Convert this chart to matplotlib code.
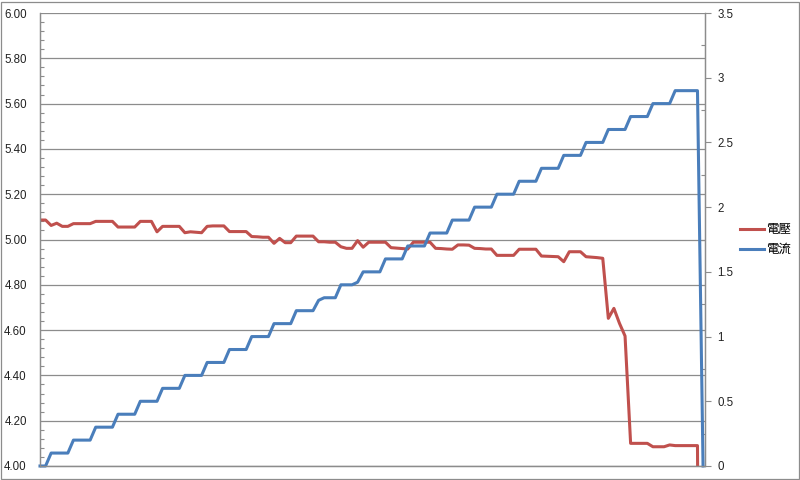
import matplotlib.pyplot as plt
from matplotlib.ticker import MultipleLocator, FormatStrFormatter
from matplotlib.patches import Rectangle

# voltage (V), left axis
voltage = [5.086, 5.086, 5.062, 5.072, 5.058, 5.058, 5.070, 5.070, 5.070, 5.070,
           5.080, 5.080, 5.080, 5.080, 5.055, 5.055, 5.055, 5.055, 5.080, 5.080,
           5.080, 5.034, 5.058, 5.058, 5.058, 5.058, 5.030, 5.034, 5.032, 5.030,
           5.058, 5.060, 5.060, 5.060, 5.035, 5.035, 5.035, 5.035, 5.013, 5.012,
           5.010, 5.010, 4.983, 5.005, 4.986, 4.986, 5.015, 5.015, 5.015, 5.015,
           4.990, 4.990, 4.988, 4.988, 4.968, 4.961, 4.961, 4.995, 4.966, 4.988,
           4.988, 4.988, 4.988, 4.964, 4.962, 4.960, 4.958, 4.988, 4.988, 4.988,
           4.988, 4.961, 4.960, 4.958, 4.957, 4.976, 4.976, 4.975, 4.961, 4.960,
           4.958, 4.958, 4.930, 4.930, 4.930, 4.930, 4.957, 4.957, 4.957, 4.957,
           4.927, 4.926, 4.925, 4.924, 4.902, 4.946, 4.946, 4.946, 4.924, 4.922,
           4.920, 4.917, 4.652, 4.696, 4.630, 4.574, 4.100, 4.100, 4.100, 4.100,
           4.085, 4.085, 4.085, 4.093, 4.090, 4.090, 4.090, 4.090, 4.090, 0.0]

# current (A), right axis
current = [0.0, 0.0, 0.1, 0.1, 0.1, 0.1, 0.2, 0.2, 0.2, 0.2,
           0.3, 0.3, 0.3, 0.3, 0.4, 0.4, 0.4, 0.4, 0.5, 0.5,
           0.5, 0.5, 0.6, 0.6, 0.6, 0.6, 0.7, 0.7, 0.7, 0.7,
           0.8, 0.8, 0.8, 0.8, 0.9, 0.9, 0.9, 0.9, 1.0, 1.0,
           1.0, 1.0, 1.1, 1.1, 1.1, 1.1, 1.2, 1.2, 1.2, 1.2,
           1.28, 1.3, 1.3, 1.3, 1.4, 1.4, 1.4, 1.42, 1.5, 1.5,
           1.5, 1.5, 1.6, 1.6, 1.6, 1.6, 1.7, 1.7, 1.7, 1.7,
           1.8, 1.8, 1.8, 1.8, 1.9, 1.9, 1.9, 1.9, 2.0, 2.0,
           2.0, 2.0, 2.1, 2.1, 2.1, 2.1, 2.2, 2.2, 2.2, 2.2,
           2.3, 2.3, 2.3, 2.3, 2.4, 2.4, 2.4, 2.4, 2.5, 2.5,
           2.5, 2.5, 2.6, 2.6, 2.6, 2.6, 2.7, 2.7, 2.7, 2.7,
           2.8, 2.8, 2.8, 2.8, 2.9, 2.9, 2.9, 2.9, 2.9, 0.0]

labels = ['電壓', '電流']
samples = list(range(len(voltage)))

grey = '#8c8c8c'
red = '#c0504d'
blue = '#4a7ebb'

plt.rcParams['font.family'] = ['Liberation Sans', 'Noto Sans CJK TC']

fig = plt.figure(figsize=(8, 4.8), dpi=100)
ax = fig.add_axes([40 / 800, 1 - 466 / 480, 665 / 800, 453 / 480])
ax2 = ax.twinx()

ax.plot(samples, voltage, color=red, lw=2.2, label=labels[0], solid_joinstyle='round')
ax2.plot(samples, current, color=blue, lw=2.2, label=labels[1], clip_on=False, solid_joinstyle='round')

ax.set_xlim(0, 119.35)
ax.set_ylim(4.0, 6.0)
ax2.set_ylim(0, 3.5)

ax.yaxis.set_major_locator(MultipleLocator(0.2))
ax.yaxis.set_minor_locator(MultipleLocator(0.04))
ax.yaxis.set_major_formatter(FormatStrFormatter('%.2f'))
ax.grid(axis='y', color=grey, lw=0.9)
ax.set_axisbelow(True)
ax.tick_params(axis='y', which='major', length=0, pad=9.5, labelsize=8.3, colors='#222222')
ax.tick_params(axis='y', which='minor', direction='in', length=3, color=grey, width=0.8)
ax.set_xticks([])

ax2.yaxis.set_major_locator(MultipleLocator(0.5))
ax2.yaxis.set_minor_locator(MultipleLocator(0.25))
ax2.yaxis.set_major_formatter(lambda v, p: f'{v:g}')
ax2.tick_params(axis='y', which='major', direction='out', length=4, pad=5, labelsize=8.3,
                color=grey, labelcolor='#222222')
ax2.tick_params(axis='y', which='minor', direction='in', length=3, color=grey, width=0.8)

for a in (ax, ax2):
    a.spines['top'].set_visible(False)
    for s in ('left', 'right', 'bottom'):
        a.spines[s].set_color(grey)
        a.spines[s].set_linewidth(0.9)

h1, l1 = ax.get_legend_handles_labels()
h2, l2 = ax2.get_legend_handles_labels()
fig.legend(h1 + h2, l1 + l2, loc='center left', bbox_to_anchor=(0.911, 0.501),
           frameon=False, handlelength=1.9, handletextpad=0.2, labelspacing=0.55,
           prop={'family': ['Noto Sans CJK TC', 'DejaVu Sans'], 'size': 9})

# outer chart border
fig.patches.append(Rectangle((0.5 / 800, 1.5 / 480), 798.5 / 800, 477 / 480,
                             transform=fig.transFigure, fill=False, edgecolor=grey, lw=0.9))

fig.savefig('out.png', dpi=100)
